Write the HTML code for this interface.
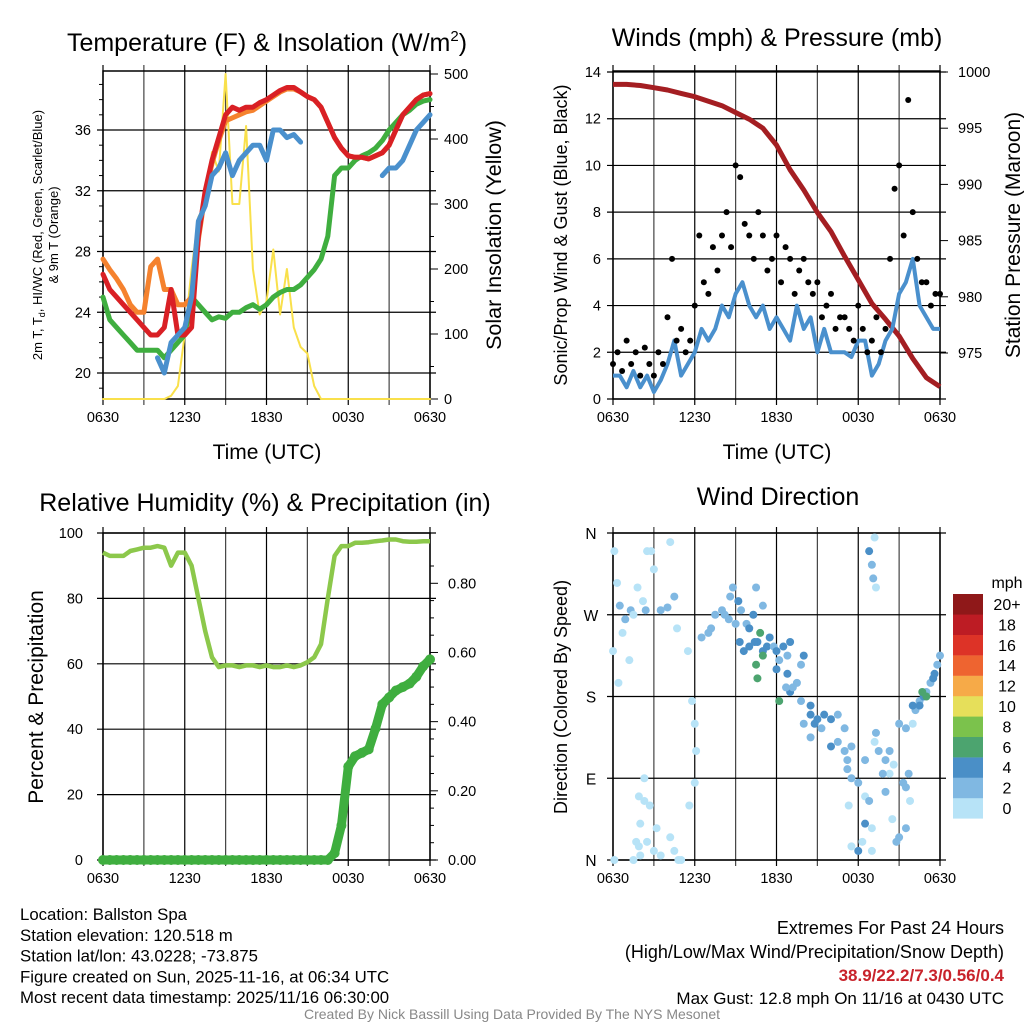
<!DOCTYPE html>
<html><head><meta charset="utf-8">
<style>
body{margin:0;background:#fff;}
svg{display:block;font-family:"Liberation Sans",sans-serif;}
</style></head>
<body>
<svg id="c" width="1024" height="1024" xmlns="http://www.w3.org/2000/svg"></svg>
<script>
// ---------- DATA (30-min steps unless noted, hours from 0630 UTC) ----------
const timeTicks = ["0630","1230","1830","0030","0630"];
const tempTicks = [20,24,28,32,36];
const solarTicks = [0,100,200,300,400,500];
const temp2m = [26.5,25.5,25,24.5,24,23.5,23,22.5,22.5,23,25.5,22.5,22.5,23,29,32,34,35.5,37,37.5,37.3,37.5,37.5,37.8,38,38.3,38.6,38.8,38.8,38.5,38.2,38,37.5,36.5,35.5,34.8,34.3,34.2,34.2,34.1,34.3,34.5,35,36,37,37.5,38,38.3,38.4];
const temp9m = [27.5,26.8,26.2,25.5,24.5,24,24,27,27.5,25.5,25.5,24.5,24.5,25,28.8,31.8,33.8,35.3,36.6,36.8,37,37.2,37.3,37.6,37.9,38.2,38.5,38.7,38.7,38.5,38.2,38,37.5,36.5,35.5,34.8,34.3,34.2,34.2,34.1,34.3,34.5,35,36,37,37.5,38,38.3,38.4];
const dewpoint = [25,23.5,23,22.5,22,21.5,21.5,21.5,21.5,21,21.5,22,22.5,25,24.5,24,23.5,23.7,23.6,24,24,24.3,24.5,24.2,24.5,25,25.3,25.5,25.5,25.8,26.3,26.8,27.5,29,33,33.5,33.5,34,34.3,34.5,34.8,35.3,36,36.5,37,37.3,37.7,37.9,38];
const windChill = [null,null,null,null,null,null,null,null,21,20,22,22.5,23,25,30,31,33,33.5,34.5,33,34,34.5,35,35,34,36,36,35.5,35.7,35.2,null,37,null,null,null,null,31.5,null,null,null,null,33,33.5,33.5,34,35,36,36.5,37];
const solar = [0,0,0,0,0,0,0,0,0,0,5,20,100,200,280,300,380,350,500,300,300,420,200,130,150,230,130,200,110,80,70,20,0,0,0,0,0,0,0,0,0,0,0,0,0,0,0,0,0];
const windTicks = [0,2,4,6,8,10,12,14];
const presTicks = [975,980,985,990,995,1000];
const pressure = [998.9,998.9,998.8,998.6,998.4,998.1,997.8,997.4,997,996.4,995.8,995,993.5,991.3,989.5,987.5,985.8,983.6,981.5,979.4,978,976.5,974.5,972.8,972]; // hourly
const windSpeed = [1,1,0.5,1.2,0.5,1,0.3,0.8,1.5,2.5,1,1.5,2,3,2.5,3,4,3.5,4.5,5,4,3.5,4,3,3.5,3,2.5,4,3,3.5,2,3,2,2,2,1.8,2.5,2.5,1,1.5,2.5,3,4.5,5,6,4,3.5,3,3];
const windGust = [1.5,2,1.2,2.5,1.5,2,1,2.2,1.5,1,2,1.5,3.5,6,2.5,3,2,2.5,4,7,5,4.5,6.5,5.5,7,8,6.5,10,9.5,7.5,7,6,8,7,5.5,6,7,5,6.5,6,4.5,5.5,6,5,4.5,5,3.5,4,4.5,3,3.5,3.5,3,2.5,4,3,2,2.5,3.5,2,3,6,9,10,7,12.8,8,6,5,5,4,4.5,4.5]; // 20-min
const rhTicks = [0,20,40,60,80,100];
const precipTicks = ["0.00","0.20","0.40","0.60","0.80"];
const rh = [94,93,93,93,94.5,95,95.5,95.5,96,95.5,90,94,94,90,80,70,62,59,59.5,59.5,59,59.5,59.5,59,59.5,59,59,59.5,59,59.5,60.5,62,66,80,93,96,96,97,97,97.2,97.5,97.7,98,98,97.5,97.3,97.3,97.5,97.5];
const precip = [0,0,0,0,0,0,0,0,0,0,0,0,0,0,0,0,0,0,0,0,0,0,0,0,0,0,0,0,0,0,0,0,0,0,0.02,0.1,0.27,0.3,0.31,0.32,0.38,0.45,0.47,0.49,0.5,0.51,0.53,0.56,0.58];
const dirLabels = ["N","E","S","W","N"];
const dirHour = [0,0.1,0.3,0.5,0.7,0.9,1.2,0.4,1.3,1.5,1.8,2.2,2.4,2.5,2.8,3,3.5,4,4.2,4.5,4.7,5.5,5.8,6,6.1,6,5.6,0.1,1.5,1.7,1.9,2,2,2.5,2.7,2.3,3,3.2,3.5,4.2,4.5,4.8,5,2.3,1.9,
 6.5,7,7.2,7.5,8,8.2,8.5,8.6,8.8,9,9.2,9.4,9.8,10,10.5,10.3,11,
 9.3,9.6,10,10.4,10.8,10.6,11,11.3,10.5,10.6,11,11.5,11.8,12,12.2,12.5,12.8,13,12,12.8,13.5,12.2,13,12.7,13.2,13.8,14,
 13.8,14.5,14.5,14.8,15,15.3,15.5,16,16.5,14,14.5,17,17.2,16.5,17.5,16,17,17.2,17.5,18,18.5,18.8,17.3,18.5,18.3,17.5,18,19,19,18.5,
 18.8,19,19.2,19.1,19.3,19.3,19.2,19.5,20,20.3,19.8,20.6,20,20.5,20.8,21,21.5,21.3,21.7,21,21.5,22,22.2,22.5,22.8,23,23.3,23.6,23.8,24,22.7,23,22.5,23.5,21.5,21.8,20.3,22];
const dirDeg = [230,340,305,280,250,265,220,195,275,270,300,285,275,340,340,320,275,278,350,290,255,230,175,150,120,85,60,0,0,20,15,5,40,20,60,65,10,35,5,25,10,0,0,90,70,
 245,250,255,270,275,270,265,290,300,260,285,275,260,255,300,270,280,
 240,230,235,240,250,240,230,235,215,200,225,245,235,230,220,235,225,240,210,205,195,175,185,190,190,215,225,
 175,170,160,150,155,145,160,155,160,150,135,145,110,130,125,125,120,100,90,85,70,65,60,40,20,15,10,35,10,110,
 340,325,355,310,300,140,130,120,110,95,95,105,75,45,20,25,35,85,95,150,145,150,165,175,180,185,195,205,215,225,185,180,170,200,80,65,120,170];
const dirSpeed = [1,1,1,2,1,2,1,1,2,1,1,1,2,1,1,1,2,2,1,2,1,1,1,1,1,1,1,1,1,1,1,1,1,1,1,1,1,1,1,1,1,1,1,1,1,
 2,2,2,3,3,2,3,3,3,3,4,3,3,4,3,4,2,
 4,4,4,4,6,4,4,4,6,6,6,4,3,4,2,4,3,4,4,4,2,6,4,3,3,3,4,
 2,4,4,4,4,3,4,4,2,3,3,2,2,2,3,4,2,2,3,2,1,2,1,4,1,1,4,1,1,2,
 4,2,1,3,1,3,1,2,2,1,2,1,2,1,3,3,2,2,2,3,3,1,2,3,4,3,3,4,3,2,6,6,4,4,2,1,2,4];
const legendLabels = ["0","2","4","6","8","10","12","14","16","18","20+"];
const legendColors = ["#b7e3f7","#80b8e2","#4a8fc7","#4ca46f","#7bc24c","#e6df5a","#f6aa48","#ee6430","#dd3327","#bd1c24","#8f1819"];

// ---------- helpers ----------
const NS="http://www.w3.org/2000/svg";
const svg=document.getElementById('c');
function mk(tag,attrs,parent,text){const e=document.createElementNS(NS,tag);for(const k in attrs)e.setAttribute(k,attrs[k]);if(text!==undefined)e.textContent=text;(parent||svg).appendChild(e);return e;}
function grp(name){const g=mk('g',{});return g;}
function txt(g,x,y,s,size,anchor,extra){const t=mk('text',Object.assign({x:x,y:y,'font-size':size,'text-anchor':anchor||'middle',fill:'#000'},extra||{}),g,s);return t;}
function xScale(L,R){return h=>L+(R-L)*h/24;}
function linY(v0,y0,v1,y1){return v=>y0+(v-v0)*(y1-y0)/(v1-v0);}
function linePath(vals,step,xs,ys){let d='',pen=false;vals.forEach((v,i)=>{if(v===null){pen=false;return;}d+=(pen?'L':'M')+xs(i*step).toFixed(1)+','+ys(v).toFixed(1);pen=true;});return d;}
function frame(g,L,T,R,B,vgrid,hgridYs){
  const gr=mk('g',{stroke:'#000','stroke-width':1.2},g);
  for(let i=0;i<=8;i++){const x=L+(R-L)*i/8;mk('line',{x1:x,y1:T-6,x2:x,y2:B+6,stroke:i%2?'#444':'#000'},gr);}
  hgridYs.forEach(y=>mk('line',{x1:L-6,y1:y,x2:R+6,y2:y},gr));
  mk('rect',{x:L,y:T,width:R-L,height:B-T,fill:'none',stroke:'#000','stroke-width':1.5},g);
}
function xLabels(g,L,R,B){timeTicks.forEach((s,i)=>txt(g,L+(R-L)*i/4,B+23,s,14.5));}

// ---------- Panel 1: Temperature ----------
(function(){
  const g=grp('temperature-panel');
  const L=103,R=430,T=71,B=399;
  const xs=xScale(L,R), ty=linY(20,373,36,130), sy=linY(0,399,500,74);
  frame(g,L,T,R,B,true,tempTicks.map(ty));
  for(let v=19;v<=40;v++){if(v%4){const y=ty(v);if(y>T&&y<B)mk('line',{x1:L-4,y1:y,x2:L,y2:y,stroke:'#000'},g);}}
  for(let v=0;v<=500;v+=50){mk('line',{x1:R,y1:sy(v),x2:R+(v%100?4:8),y2:sy(v),stroke:'#000'},g);}
  const lines=[['solar-line',solar,sy,'#f9e04b',2],['temp-9m-line',temp9m,ty,'#f5822e',5],['dewpoint-line',dewpoint,ty,'#3fae3f',5],['temp-2m-line',temp2m,ty,'#d92025',5],['windchill-line',windChill,ty,'#4a90cd',5]];
  lines.forEach(([n,arr,ys,col,w])=>{const p=mk('path',{d:linePath(arr,0.5,xs,ys),fill:'none',stroke:col,'stroke-width':w,'stroke-linejoin':'round','stroke-linecap':'round'},g);
    
    });
  tempTicks.forEach(v=>txt(g,L-12,ty(v)+5,String(v),14.5,'end'));
  solarTicks.forEach(v=>txt(g,R+14,sy(v)+5,String(v),14.5,'start'));
  xLabels(g,L,R,B);
  const t=txt(g,267,51,'Temperature (F) & Insolation (W/m',25);
  mk('tspan',{dy:-10,'font-size':15},t,'2');mk('tspan',{dy:10},t,')');
  txt(g,267,459,'Time (UTC)',21);
  const yl=mk('text',{transform:'translate(42,235) rotate(-90)','font-size':13,'text-anchor':'middle'},g);
  mk('tspan',{x:0,y:0},yl,'2m T, T');mk('tspan',{'font-size':9,dy:3},yl,'d');mk('tspan',{dy:-3},yl,', HI/WC (Red, Green, Scarlet/Blue)');
  txt(g,0,0,'& 9m T (Orange)',13,'middle',{transform:'translate(58,235) rotate(-90)'});
  txt(g,0,0,'Solar Insolation (Yellow)',21.5,'middle',{transform:'translate(501,235) rotate(-90)'});
})();

// ---------- Panel 2: Winds ----------
(function(){
  const g=grp('winds-panel');
  const L=613,R=940,T=71,B=399;
  const xs=xScale(L,R), wy=linY(0,399,14,72), py=linY(975,353,1000,72);
  frame(g,L,T,R,B,true,windTicks.map(wy));
  presTicks.forEach(v=>mk('line',{x1:R,y1:py(v),x2:R+8,y2:py(v),stroke:'#000'},g));
  let p=mk('path',{d:linePath(pressure,1,xs,py),fill:'none',stroke:'#a41e22','stroke-width':5,'stroke-linejoin':'round'},g);
  
  
  p=mk('path',{d:linePath(windSpeed,0.5,xs,wy),fill:'none',stroke:'#4a90cd','stroke-width':4,'stroke-linejoin':'round'},g);
  
  
  windGust.forEach((v,i)=>{const c=mk('circle',{cx:xs(i/3),cy:wy(v),r:3,fill:'#000'},g);
    
    });
  windTicks.forEach(v=>txt(g,L-12,wy(v)+5,String(v),14.5,'end'));
  presTicks.forEach(v=>txt(g,R+18,py(v)+5,String(v),14.5,'start'));
  xLabels(g,L,R,B);
  txt(g,777,46,'Winds (mph) & Pressure (mb)',25);
  txt(g,777,459,'Time (UTC)',21);
  txt(g,0,0,'Sonic/Prop Wind & Gust (Blue, Black)',18,'middle',{transform:'translate(567,235) rotate(-90)'});
  txt(g,0,0,'Station Pressure (Maroon)',21,'middle',{transform:'translate(1020,235) rotate(-90)'});
})();

// ---------- Panel 3: RH & Precip ----------
(function(){
  const g=grp('humidity-panel');
  const L=103,R=430,T=533,B=860;
  const xs=xScale(L,R), ry=linY(0,860,100,533), qy=linY(0,860,0.8,583.3);
  frame(g,L,T,R,B,true,rhTicks.map(ry));
  for(let v=0;v<=0.9;v+=0.05){const y=qy(v);if(y>T)mk('line',{x1:R,y1:y,x2:R+(Math.round(v*20)%4?4:8),y2:y,stroke:'#000'},g);}
  let p=mk('path',{d:linePath(rh,0.5,xs,ry),fill:'none',stroke:'#8cc84b','stroke-width':4.5,'stroke-linejoin':'round'},g);
  
  
  p=mk('path',{d:linePath(precip,0.5,xs,qy),fill:'none',stroke:'#3fae3f','stroke-width':9,'stroke-linejoin':'round','stroke-linecap':'round'},g);
  
  
  precip.forEach((v,i)=>{const c=mk('circle',{cx:xs(i*0.5),cy:qy(v),r:5,fill:'#3fae3f'},g);
    
    });
  rhTicks.forEach(v=>txt(g,L-20,ry(v)+5,String(v),14.5,'end'));
  precipTicks.forEach(s=>txt(g,R+18,qy(parseFloat(s))+5,s,14.5,'start'));
  xLabels(g,L,R,B);
  txt(g,265,511,'Relative Humidity (%) & Precipitation (in)',25);
  txt(g,0,0,'Percent & Precipitation',21,'middle',{transform:'translate(43,697) rotate(-90)'});
})();

// ---------- Panel 4: Wind Direction ----------
(function(){
  const g=grp('wind-direction-panel');
  const L=613,R=940,T=533,B=860;
  const xs=xScale(L,R), dy=linY(0,860,360,533);
  frame(g,L,T,R,B,true,[0,90,180,270,360].map(dy));
  dirHour.forEach((h,i)=>{const bin=Math.min(10,Math.floor(dirSpeed[i]/2));
    const c=mk('circle',{cx:xs(h),cy:dy(dirDeg[i]),r:4,fill:legendColors[bin]},g);
    
    });
  dirLabels.forEach((s,i)=>txt(g,L-22,dy(i*90)+6,s,15.5,'middle'));
  xLabels(g,L,R,B);
  txt(g,778,505,'Wind Direction',25);
  txt(g,0,0,'Direction (Colored By Speed)',18,'middle',{transform:'translate(567,697) rotate(-90)'});
  const lg=grp('speed-legend');
  txt(lg,1007,588,'mph',16);
  legendColors.forEach((c,i)=>{const y=798-i*20.4;
    const r=mk('rect',{x:953,y:y,width:30,height:20.6,fill:c},lg);
    
    
    txt(lg,1007,y+16,legendLabels[i],16);});
})();

// ---------- Footer ----------
(function(){
  const g=grp('station-info');
  ['Location: Ballston Spa','Station elevation: 120.518 m','Station lat/lon: 43.0228; -73.875','Figure created on Sun, 2025-11-16, at 06:34 UTC','Most recent data timestamp: 2025/11/16 06:30:00'].forEach((s,i)=>txt(g,20,920+i*20.8,s,16.8,'start'));
  const e=grp('extremes-block');
  txt(e,1004,934,'Extremes For Past 24 Hours',18,'end');
  txt(e,1004,958,'(High/Low/Max Wind/Precipitation/Snow Depth)',18,'end');
  txt(e,1004,981,'38.9/22.2/7.3/0.56/0.4',17,'end',{fill:'#c8232b','font-weight':'bold'});
  txt(e,1004,1004,'Max Gust: 12.8 mph On 11/16 at 0430 UTC',17,'end');
  const c=txt(svg,512,1019,'Created By Nick Bassill Using Data Provided By The NYS Mesonet',14,'middle',{fill:'#888'});
  
  
})();
</script>
</body></html>
